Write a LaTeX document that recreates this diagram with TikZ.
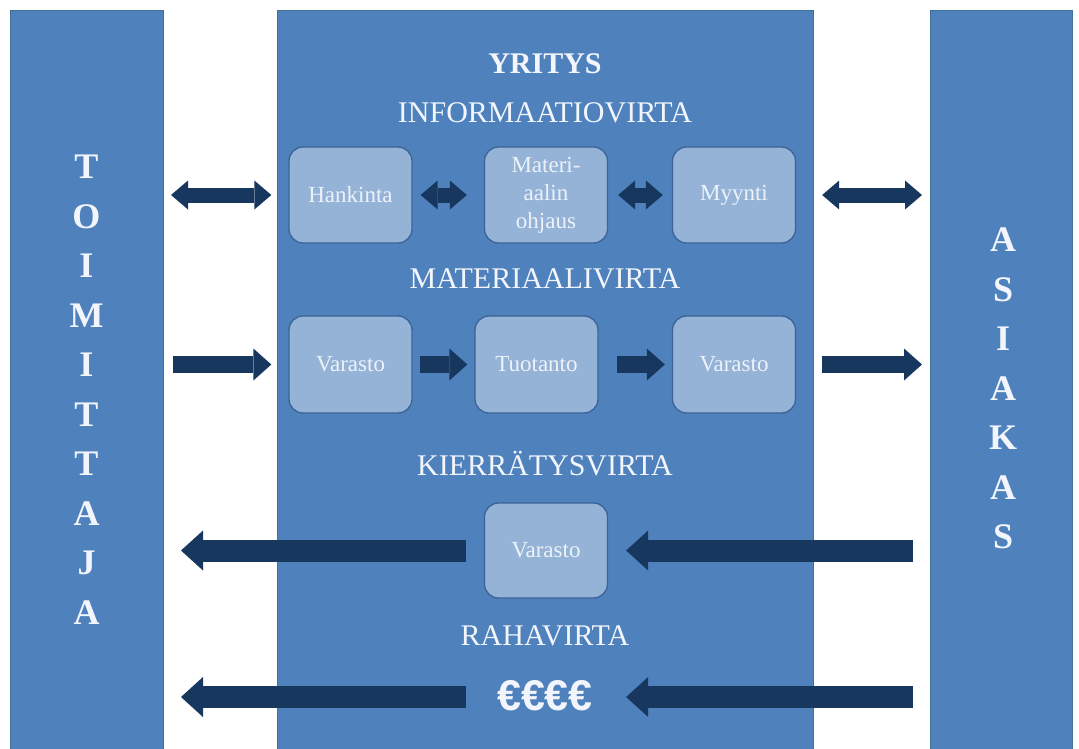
\documentclass[tikz,border=0pt]{standalone}
\usepackage{fontspec}
\setmainfont{Liberation Serif}
\newfontfamily\eurofamily{Liberation Sans}
\usetikzlibrary{arrows.meta}

\definecolor{colfill}{HTML}{4F81BD}
\definecolor{colline}{HTML}{41719C}
\definecolor{boxfill}{HTML}{95B3D7}
\definecolor{boxline}{HTML}{3B6396}
\definecolor{arrowc}{HTML}{17375E}
\definecolor{headtxt}{HTML}{F2F6FC}
\definecolor{boxtxt}{HTML}{EDF2F9}

\newcommand\headsize{\fontsize{30}{36}\selectfont}
\newcommand\boxsize{\fontsize{23}{29}\selectfont}
\newcommand\sidesize{\fontsize{36}{49.5}\selectfont\bfseries}
\newcommand\eurosize{\eurofamily\fontsize{43}{50}\selectfont\bfseries}

\tikzset{
  colbox/.style={draw=colline, line width=1pt, fill=colfill, inner sep=0pt,
    anchor=north west},
  flowbox/.style={draw=boxline, line width=1.3pt, fill=boxfill,
    rounded corners=14pt, minimum width=123pt, inner sep=2pt,
    text=boxtxt, font=\boxsize, align=center},
  heading/.style={text=headtxt, font=\headsize, anchor=base, inner sep=0pt},
  sidetext/.style={text=headtxt, font=\sidesize, align=center, inner sep=0pt,
    anchor=north},
  infoarrow/.style={draw=arrowc, line width=15pt,
    {Triangle[length=17pt,width=29pt,line width=0pt]}-{Triangle[length=17pt,width=29pt,line width=0pt]}},
  matarrow/.style={draw=arrowc, line width=17pt,
    -{Triangle[length=18pt,width=32pt,line width=0pt]}},
  backarrow/.style={draw=arrowc, line width=22pt,
    -{Triangle[length=22pt,width=40pt,line width=0pt]}}
}

\begin{document}
\begin{tikzpicture}[x=1pt,y=-1pt]
\useasboundingbox (0,0) rectangle (1079,748);
\fill[white] (0,0) rectangle (1079,748);

% the three columns
\node[colbox, minimum width=153pt, minimum height=741pt] (toim) at (10,10) {};
\node[colbox, minimum width=536pt, minimum height=741pt] (yri) at (277,10) {};
\node[colbox, minimum width=142pt, minimum height=741pt] (asi) at (930,10) {};

% vertical labels of the outer columns
\node[sidetext] (toimlbl) at (86.5,155) {T\\O\\I\\M\\I\\T\\T\\A\\J\\A};
\node[sidetext] (asilbl) at (1003,228) {A\\S\\I\\A\\K\\A\\S};

% headings of the company column
\node[heading, font=\headsize\bfseries] (title) at (545,73) {YRITYS};
\node[heading] (info) at (545,122) {INFORMAATIOVIRTA};
\node[heading] (mater) at (545,288) {MATERIAALIVIRTA};
\node[heading] (kierr) at (545,475) {KIERRÄTYSVIRTA};
\node[heading] (raha) at (545,645) {RAHAVIRTA};

% information flow
\node[flowbox, minimum height=96pt] (hank) at (350.5,195) {Hankinta};
\node[flowbox, minimum height=96pt] (ohj) at (546,195) {Materi-\\[-1pt]aalin\\[-1pt]ohjaus};
\node[flowbox, minimum height=96pt] (myy) at (734,195) {Myynti};

% material flow
\node[flowbox, minimum height=97pt] (var1) at (350.5,364.5) {Varasto};
\node[flowbox, minimum height=97pt] (tuo) at (536.5,364.5) {Tuotanto};
\node[flowbox, minimum height=97pt] (var2) at (734,364.5) {Varasto};

% recycling flow
\node[flowbox, minimum height=95pt] (var3) at (546,550.5) {Varasto};

% money flow
\coordinate (money) at (546,697);
\node[heading, font=\eurosize] (euro) at (545,710) {€€€€};

% information arrows
\draw[infoarrow] ([xshift=7pt]toim.east |- hank.west) -- ([xshift=-17pt]hank.west);
\draw[infoarrow] ([xshift=8pt]hank.east) -- ([xshift=-17pt]ohj.west);
\draw[infoarrow] ([xshift=10pt]ohj.east) -- ([xshift=-9pt]myy.west);
\draw[infoarrow] ([xshift=26pt]myy.east) -- ([xshift=-8pt]asi.west |- myy.east);

% material arrows
\draw[matarrow] ([xshift=9pt]toim.east |- var1.west) -- ([xshift=-17pt]var1.west);
\draw[matarrow] ([xshift=7pt]var1.east) -- ([xshift=-7pt]tuo.west);
\draw[matarrow] ([xshift=18pt]tuo.east) -- ([xshift=-7pt]var2.west);
\draw[matarrow] ([xshift=26pt]var2.east) -- ([xshift=-8pt]asi.west |- var2.east);

% recycling arrows
\draw[backarrow] ([xshift=-17pt]asi.west |- var3.east) -- ([xshift=18pt]var3.east);
\draw[backarrow] ([xshift=-18pt]var3.west) -- ([xshift=17pt]toim.east |- var3.west);

% money arrows
\draw[backarrow] ([xshift=-17pt]asi.west |- money) -- ([xshift=18pt]var3.east |- money);
\draw[backarrow] ([xshift=-18pt]var3.west |- money) -- ([xshift=17pt]toim.east |- money);
\end{tikzpicture}
\end{document}
